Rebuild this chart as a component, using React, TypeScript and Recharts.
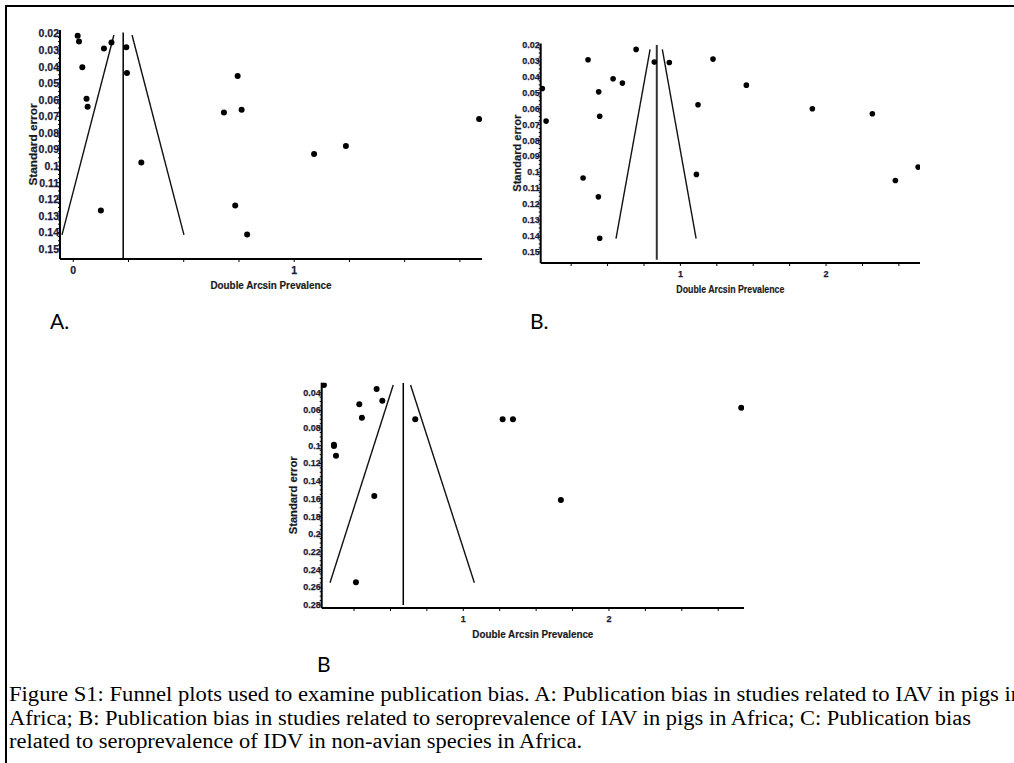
import React from "react";
import { ScatterChart, Scatter, XAxis, YAxis } from "recharts";

// Panel A: IAV in pigs (x = double arcsin prevalence, y = standard error)
const aStudies = [
  { x: 0.02, y: 0.0214 }, { x: 0.026, y: 0.025 }, { x: 0.173, y: 0.0256 },
  { x: 0.139, y: 0.0292 }, { x: 0.24, y: 0.0284 }, { x: 0.041, y: 0.0404 },
  { x: 0.243, y: 0.0439 }, { x: 0.744, y: 0.0457 }, { x: 0.06, y: 0.0595 },
  { x: 0.065, y: 0.0643 }, { x: 0.682, y: 0.0677 }, { x: 0.762, y: 0.0661 },
  { x: 1.837, y: 0.0717 }, { x: 1.234, y: 0.0879 }, { x: 1.09, y: 0.0927 },
  { x: 0.308, y: 0.0978 }, { x: 0.733, y: 0.1238 }, { x: 0.125, y: 0.1268 },
  { x: 0.787, y: 0.1412 },
];
const aPooled = [{ x: 0.226, y: 0.0195 }, { x: 0.226, y: 0.1555 }];
const aFunnelLeft = [{ x: 0.184, y: 0.021 }, { x: -0.051, y: 0.1415 }];
const aFunnelRight = [{ x: 0.266, y: 0.021 }, { x: 0.501, y: 0.1415 }];
const aYTicks = [0.02, 0.03, 0.04, 0.05, 0.06, 0.07, 0.08, 0.09, 0.1, 0.11, 0.12, 0.13, 0.14, 0.15];
const aXTicks = [0, 0.25, 0.5, 0.75, 1, 1.25, 1.5, 1.75];
const aXLabels = [0, 1];

// Panel B: seroprevalence of IAV in pigs
const bStudies = [
  { x: 0.696, y: 0.0227 }, { x: 0.366, y: 0.0292 }, { x: 0.821, y: 0.0307 },
  { x: 0.924, y: 0.0309 }, { x: 1.224, y: 0.0288 }, { x: 0.538, y: 0.0412 },
  { x: 0.602, y: 0.0439 }, { x: 0.052, y: 0.0473 }, { x: 0.439, y: 0.0494 },
  { x: 1.453, y: 0.0452 }, { x: 1.121, y: 0.0575 }, { x: 1.906, y: 0.06 },
  { x: 2.318, y: 0.0632 }, { x: 0.446, y: 0.0647 }, { x: 0.078, y: 0.0678 },
  { x: 2.632, y: 0.0967 }, { x: 0.332, y: 0.1036 }, { x: 1.11, y: 0.1013 },
  { x: 2.476, y: 0.1051 }, { x: 0.437, y: 0.1154 }, { x: 0.446, y: 0.1414 },
];
const bPooled = [{ x: 0.838, y: 0.02 }, { x: 0.838, y: 0.155 }];
const bFunnelLeft = [{ x: 0.792, y: 0.0227 }, { x: 0.558, y: 0.1416 }];
const bFunnelRight = [{ x: 0.876, y: 0.0227 }, { x: 1.108, y: 0.1416 }];
const bYTicks = aYTicks;
const bXTicks = [0.25, 0.5, 0.75, 1, 1.25, 1.5, 1.75, 2, 2.25, 2.5];
const bXLabels = [1, 2];

// Panel C: seroprevalence of IDV in non-avian species
const cStudies = [
  { x: 0.043, y: 0.0313 }, { x: 0.405, y: 0.0359 }, { x: 0.444, y: 0.049 },
  { x: 0.286, y: 0.0532 }, { x: 0.304, y: 0.0683 }, { x: 0.67, y: 0.0701 },
  { x: 1.27, y: 0.0701 }, { x: 1.341, y: 0.0701 }, { x: 2.908, y: 0.057 },
  { x: 0.112, y: 0.0988 }, { x: 0.112, y: 0.1002 }, { x: 0.126, y: 0.1112 },
  { x: 0.389, y: 0.1568 }, { x: 1.67, y: 0.1613 }, { x: 0.263, y: 0.2544 },
];
const cPooled = [{ x: 0.588, y: 0.0287 }, { x: 0.588, y: 0.28 }];
const cFunnelLeft = [{ x: 0.519, y: 0.0313 }, { x: 0.085, y: 0.2548 }];
const cFunnelRight = [{ x: 0.638, y: 0.0313 }, { x: 1.076, y: 0.2548 }];
const cYTicks = [0.04, 0.06, 0.08, 0.1, 0.12, 0.14, 0.16, 0.18, 0.2, 0.22, 0.24, 0.26, 0.28];
const cXTicks = [0.25, 0.5, 0.75, 1, 1.25, 1.5, 1.75, 2, 2.25, 2.5, 2.75];
const cXLabels = [1, 2];

const captionLines = [
  "Figure S1: Funnel plots used to examine publication bias. A: Publication bias in studies related to IAV in pigs in",
  "Africa; B: Publication bias in studies related to seroprevalence of IAV in pigs in Africa; C: Publication bias",
  "related to seroprevalence of IDV in non-avian species in Africa.",
];
const captionWidths = [1013, 962, 573];

const tickColor = "#1b1b3a";
const axisFont = "'Liberation Sans', Arial, sans-serif";

const fmt = (v: number) => String(+v.toFixed(3));
const near = (a: number, b: number) => Math.abs(a - b) < 1e-7;

// add small unlabeled ticks between the labelled ones
function withMinor(major: number[], parts: number) {
  const out: number[] = [];
  for (let i = 0; i < major.length; i++) {
    out.push(major[i]);
    if (i < major.length - 1) {
      const step = (major[i + 1] - major[i]) / parts;
      for (let k = 1; k < parts; k++) out.push(major[i] + step * k);
    }
  }
  return out;
}

function YTick(props: any) {
  const { y, payload, axisX, major, fontSize } = props;
  const isMajor = major.some((m: number) => near(m, payload.value));
  return (
    <g>
      <line x1={axisX - (isMajor ? 3 : 2)} x2={axisX} y1={y} y2={y} stroke="#000" strokeWidth={1} />
      {isMajor && (
        <text x={axisX - 1} y={y} textAnchor="end" dominantBaseline="central" fontSize={fontSize} fontWeight="bold"
          fill={tickColor} stroke={tickColor} strokeWidth={0.25} fontFamily={axisFont}>
          {fmt(payload.value)}
        </text>
      )}
    </g>
  );
}

function XTick(props: any) {
  const { x, payload, axisY, labels, fontSize } = props;
  const show = labels.some((m: number) => near(m, payload.value));
  return (
    <g>
      <line x1={x} x2={x} y1={axisY} y2={axisY + 3} stroke="#000" strokeWidth={1} />
      {show && (
        <text x={x} y={axisY + 11} textAnchor="middle" dominantBaseline="central" fontSize={fontSize} fontWeight="bold"
          fill={tickColor} stroke={tickColor} strokeWidth={0.25} fontFamily={axisFont}>
          {fmt(payload.value)}
        </text>
      )}
    </g>
  );
}

const hidden = () => <g />;

function Funnel(props: any) {
  const { left, top, width, height, margin, xDomain, yDomain, xTicks, xLabels, yTicks, minorParts,
    studies, pooled, funnelLeft, funnelRight, dotR, tickSize, xTitleLen, yTitleLen, yTitleX, pooledStroke, pooledWidth } = props;
  const axisX = margin.left + 60;
  const axisY = height - margin.bottom - 30;
  const plotMidY = (margin.top + axisY) / 2;
  const plotMidX = (axisX + width - margin.right) / 2;
  return (
    <div style={{ position: "absolute", left, top, width, height }}>
      <ScatterChart width={width} height={height} margin={margin}>
        <XAxis type="number" dataKey="x" domain={xDomain} ticks={xTicks} interval={0} allowDataOverflow
          height={30} tickLine={false} axisLine={{ stroke: "#000", strokeWidth: 2 }}
          tick={<XTick axisY={axisY} labels={xLabels} fontSize={tickSize} />} />
        <YAxis type="number" dataKey="y" domain={yDomain} ticks={withMinor(yTicks, minorParts)} interval={0} allowDataOverflow reversed
          width={60} tickLine={false} axisLine={{ stroke: "#000", strokeWidth: 2 }}
          tick={<YTick axisX={axisX} major={yTicks} fontSize={tickSize} />} />
        <Scatter data={pooled} line={{ stroke: pooledStroke, strokeWidth: pooledWidth }} shape={hidden} isAnimationActive={false} />
        <Scatter data={funnelLeft} line={{ stroke: "#111", strokeWidth: 1.4 }} shape={hidden} isAnimationActive={false} />
        <Scatter data={funnelRight} line={{ stroke: "#111", strokeWidth: 1.4 }} shape={hidden} isAnimationActive={false} />
        <Scatter data={studies} isAnimationActive={false}
          shape={(p: any) => <circle cx={p.cx} cy={p.cy} r={dotR} fill="#000" />} />
      </ScatterChart>
      <svg width={width} height={height} style={{ position: "absolute", left: 0, top: 0, pointerEvents: "none" }}>
        <text x={plotMidX} y={axisY + 26} textAnchor="middle" dominantBaseline="central" fontSize={11.5} fontWeight="bold"
          fill="#1a1a1a" stroke="#1a1a1a" strokeWidth={0.2} fontFamily={axisFont} textLength={xTitleLen} lengthAdjust="spacingAndGlyphs">
          Double Arcsin Prevalence
        </text>
        <text x={0} y={0} transform={`translate(${yTitleX},${plotMidY}) rotate(-90)`} textAnchor="middle" dominantBaseline="central"
          fontSize={11} fontWeight="bold" fill="#1a1a1a" stroke="#1a1a1a" strokeWidth={0.2} fontFamily={axisFont}
          textLength={yTitleLen} lengthAdjust="spacingAndGlyphs">
          Standard error
        </text>
      </svg>
    </div>
  );
}

export default function App() {
  return (
    <div style={{ position: "absolute", left: 0, top: 0, width: 1014, height: 763, background: "#fff", overflow: "hidden" }}>
      <Funnel left={0} top={0} width={500} height={300} margin={{ top: 30, right: 18, bottom: 11, left: 0 }}
        xDomain={[-0.06, 1.85]} yDomain={[0.018, 0.156]} xTicks={aXTicks} xLabels={aXLabels} yTicks={aYTicks} minorParts={4}
        studies={aStudies} pooled={aPooled} funnelLeft={aFunnelLeft} funnelRight={aFunnelRight}
        dotR={3} tickSize={10.5} xTitleLen={121} yTitleLen={82} yTitleX={33} pooledStroke="#000" pooledWidth={1.5} />
      <Funnel left={480} top={0} width={460} height={300} margin={{ top: 43.5, right: 20, bottom: 7, left: 0.7 }}
        xDomain={[0.041, 2.645]} yDomain={[0.019, 0.157]} xTicks={bXTicks} xLabels={bXLabels} yTicks={bYTicks} minorParts={4}
        studies={bStudies} pooled={bPooled} funnelLeft={bFunnelLeft} funnelRight={bFunnelRight}
        dotR={2.8} tickSize={9} xTitleLen={108} yTitleLen={77} yTitleX={37} pooledStroke="#333" pooledWidth={2} />
      <Funnel left={260} top={360} width={500} height={290} margin={{ top: 22.7, right: 16, bottom: 12, left: 1.7 }}
        xDomain={[0.028, 2.927]} yDomain={[0.0287, 0.2834]} xTicks={cXTicks} xLabels={cXLabels} yTicks={cYTicks} minorParts={4}
        studies={cStudies} pooled={cPooled} funnelLeft={cFunnelLeft} funnelRight={cFunnelRight}
        dotR={3} tickSize={9} xTitleLen={121} yTitleLen={78} yTitleX={33} pooledStroke="#000" pooledWidth={1.5} />
      <svg width={1014} height={763} style={{ position: "absolute", left: 0, top: 0, pointerEvents: "none" }}>
        <rect x={5} y={5} width={1009} height={2} fill="#000" />
        <rect x={5} y={5} width={2} height={758} fill="#000" />
        <text x={50} y={329} fontSize={21} fontFamily="Lato, 'Open Sans', sans-serif" fill="#000">A.</text>
        <text x={530} y={329} fontSize={21} fontFamily="Lato, 'Open Sans', sans-serif" fill="#000">B.</text>
        <text x={317} y={672} fontSize={21} fontFamily="Lato, 'Open Sans', sans-serif" fill="#000">B</text>
        {captionLines.map((t, i) => (
          <text key={i} x={9} y={701 + i * 23.5} fontSize={20} fontFamily="'Liberation Serif', 'Times New Roman', serif" fill="#000"
            textLength={captionWidths[i]} lengthAdjust="spacingAndGlyphs">
            {t}
          </text>
        ))}
      </svg>
    </div>
  );
}
